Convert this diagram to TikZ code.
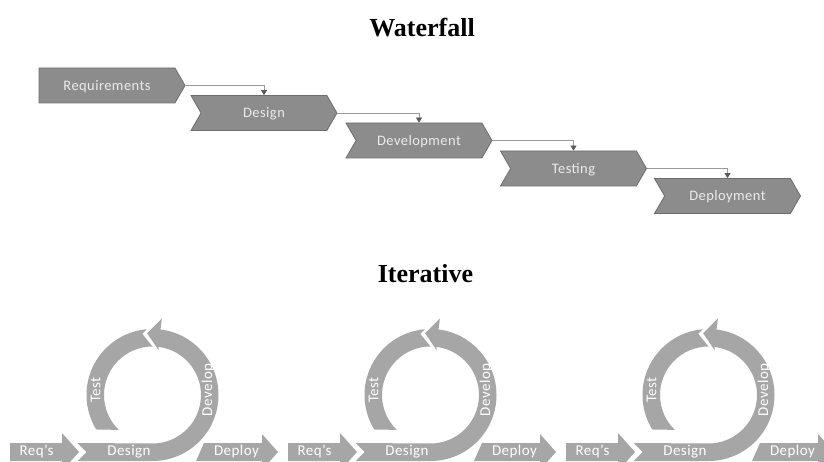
\documentclass[tikz,border=0pt]{standalone}
\usepackage{fontspec}
\setmainfont{Liberation Serif}
\newfontfamily\stepfont[LetterSpace=3]{Carlito}
\usetikzlibrary{shapes.symbols,arrows.meta}

\definecolor{chevfill}{HTML}{8C8C8C}
\definecolor{chevline}{HTML}{6E6E6E}
\definecolor{loopfill}{HTML}{A6A6A6}

\begin{document}
\begin{tikzpicture}[
	x = 1pt, y = 1pt, % one unit = one pixel of the page
	> = {Triangle[width=6pt,length=5pt,color=black!65]}, % arrow head style
	title/.style={anchor=base, font=\bfseries\fontsize{26}{30}\selectfont},
	phase/.style={signal, signal to=east, signal pointer angle=120, draw=chevline, fill=chevfill, line width=0.8pt,
		minimum width=146, minimum height=35, inner sep=0pt, text height=9.2pt, text depth=0pt,
		text=black!8, font=\stepfont\fontsize{14.5}{15}\selectfont},
	midphase/.style={phase, signal from=west},
	flow/.style={draw=black!40, line width=0.7pt, ->},
	looptext/.style={text=white, inner sep=0pt, font=\stepfont\fontsize{15}{16}\selectfont},
	]
	\useasboundingbox (0,0) rectangle (824,461);
	\clip (0,0) rectangle (824,461);

	% Waterfall
	\node[title] (wf) at (422,424) {Waterfall};
	% Nodes and their positions
	\node[phase]    (req)     at (107,375.5) {Requirements};
	\node[midphase] (design)  at (264,348)   {Design};
	\node[midphase] (devel)   at (419,320.5) {Development};
	\node[midphase] (testing) at (573.5,292.5) {Testing};
	\node[midphase] (deploy)  at (727.5,265) {Deployment};
	% Paths connecting nodes
	\draw[flow] (req.east)     -| (design.north);
	\draw[flow] (design.east)  -| (devel.north);
	\draw[flow] (devel.east)   -| (testing.north);
	\draw[flow] (testing.east) -| (deploy.north);

	% Iterative
	\node[title] (it) at (425.5,179) {Iterative};
	\foreach \dx [count=\k] in {0,278,556} {
		\begin{scope}[shift={(\dx,0)}]
			% Req's and Deploy arrows
			\fill[loopfill] (10,0) -- (10,18) -- (62,18) -- (62,28) -- (79,9) -- (62,-10) -- (62,0) -- cycle;
			\fill[loopfill] (196,0) -- (204,18) -- (262,18) -- (262,27) -- (278,9) -- (262,-9) -- (262,0) -- cycle;
			\node[looptext, anchor=base] (reqs\k)   at (36.5,6) {Req’s};
			\node[looptext, anchor=base] (deploy\k) at (236.5,6) {Deploy};
			\begin{scope}[shift={(152.5,66)}]
				% Design running into Develop
				\fill[loopfill] (-75,-66) -- (0,-66) arc[start angle=-90, end angle=83, radius=66]
					-- (83:77) -- (95:62) -- (82:45) -- (83:48.5)
					arc[start angle=83, end angle=-90, radius=48.5] -- (-75,-48) -- (-66,-57) -- cycle;
				% Test
				\fill[loopfill] (95:66) arc[start angle=95, end angle=211.5, radius=66]
					-- (226:48.5) arc[start angle=226, end angle=90, radius=48.5] -- (99.5:62) -- cycle;
				\node[looptext, anchor=base] (design\k) at (-23.5,-60) {Design};
				\node[looptext, rotate=90] (test\k)    at (-57,5) {Test};
				\node[looptext, rotate=90] (develop\k) at (55.5,5) {Develop};
			\end{scope}
		\end{scope}
	}

\end{tikzpicture}
\end{document}
